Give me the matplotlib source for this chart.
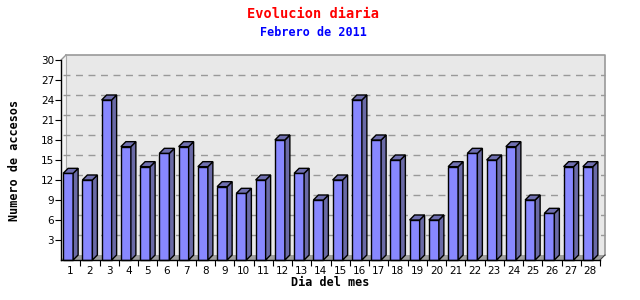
import matplotlib
matplotlib.use("Agg")
import matplotlib.pyplot as plt
from matplotlib.patches import Polygon, Rectangle

days = list(range(1, 29))
accesos = [13, 12, 24, 17, 14, 16, 17, 14, 11, 10, 12, 18, 13, 9, 12, 24,
           18, 15, 6, 6, 14, 16, 15, 17, 9, 7, 14, 14]
yticks = [3, 6, 9, 12, 15, 18, 21, 24, 27, 30]

title = "Evolucion diaria"
subtitle = "Febrero de 2011"
xlabel = "Dia del mes"
ylabel = "Numero de accesos"

W, H, DPI = 640, 300, 100
fig = plt.figure(figsize=(W / DPI, H / DPI), dpi=DPI)
fig.patch.set_facecolor("white")

L, R, T, B = 61, 600, 60, 260
ax = fig.add_axes([L / W, 1 - B / H, (R - L) / W, (B - T) / H])
ax.set_facecolor("none")
xmin, xmax = 0.5, len(days) + 0.5
ymin, ymax = 0, 30
ax.set_xlim(xmin, xmax)
ax.set_ylim(ymin, ymax)

depth_px = 5
dx = depth_px * (xmax - xmin) / (R - L)
dy = depth_px * (ymax - ymin) / (B - T)

mono = "DejaVu Sans Mono"

# back wall
ax.add_patch(Rectangle((xmin + dx, ymin + dy), xmax - xmin, ymax - ymin,
                       facecolor="#e8e8e8", edgecolor="none", zorder=0, clip_on=False))
ax.plot([xmin + dx, xmax + dx, xmax + dx], [ymax + dy, ymax + dy, ymin + dy],
        color="#999999", lw=1.2, zorder=1, clip_on=False)
ax.plot([xmin + dx, xmin + dx], [ymin + dy, ymax + dy], color="#aaaaaa", lw=0.8,
        zorder=1, clip_on=False)
# left wall
ax.add_patch(Polygon([(xmin, ymin), (xmin + dx, ymin + dy), (xmin + dx, ymax + dy), (xmin, ymax)],
                     closed=True, facecolor="#f4f4f4", edgecolor="none", zorder=0, clip_on=False))
ax.plot([xmin, xmin + dx], [ymax, ymax + dy], color="#999999", lw=1, zorder=1, clip_on=False)
# floor
ax.add_patch(Polygon([(xmin, ymin), (xmax, ymin), (xmax + dx, ymin + dy), (xmin + dx, ymin + dy)],
                     closed=True, facecolor="#a0a0a0", edgecolor="none", zorder=1, clip_on=False))
ax.plot([xmax, xmax + dx], [ymin, ymin + dy], color="#444444", lw=0.8, zorder=1, clip_on=False)

# gridlines on back wall
for yv in yticks[:-1]:
    ax.plot([xmin + dx * 0.3, xmax + dx], [yv + dy, yv + dy], color="#999999", lw=1,
            ls=(0, (5, 4)), zorder=1, clip_on=False)

# bars
w = 10 * (xmax - xmin) / (R - L)
front_c = "#8888ff"
side_c = "#6a6aa6"
top_c = "#6f6fb0"
for d, v in zip(days, accesos):
    x0 = d - (w + dx) / 2
    ax.add_patch(Rectangle((x0, 0), w, v, facecolor=front_c, edgecolor="black",
                           lw=1, zorder=3, clip_on=False))
    ax.add_patch(Polygon([(x0 + w, 0), (x0 + w + dx, dy), (x0 + w + dx, v + dy), (x0 + w, v)],
                         closed=True, facecolor=side_c, edgecolor="black", lw=1, zorder=3,
                         clip_on=False))
    ax.add_patch(Polygon([(x0, v), (x0 + dx, v + dy), (x0 + w + dx, v + dy), (x0 + w, v)],
                         closed=True, facecolor=top_c, edgecolor="black", lw=1, zorder=3,
                         clip_on=False))

for s in ["top", "right"]:
    ax.spines[s].set_visible(False)
for s in ["left", "bottom"]:
    ax.spines[s].set_color("black")
    ax.spines[s].set_linewidth(1)
    ax.spines[s].set_zorder(4)

ax.set_yticks(yticks)
ax.set_yticklabels([str(t) for t in yticks])
ax.tick_params(axis="y", direction="out", length=4, width=0.8, pad=1, labelsize=7.5,
               colors="black")
ax.set_xticks(days)
ax.set_xticklabels([str(d) for d in days])
ax.set_xticks([d + 0.5 for d in days], minor=True)
ax.tick_params(axis="x", which="major", length=0, pad=4, labelsize=7.5)
ax.tick_params(axis="x", which="minor", direction="out", length=4, width=0.8)

ax.set_xlabel(xlabel, fontfamily=mono, fontweight="bold", fontsize=8.5, labelpad=0)
ax.set_ylabel(ylabel, fontfamily=mono, fontweight="bold", fontsize=8.5, labelpad=14)

fig.text(313 / W, 1 - 14 / H, title, color="red", fontfamily=mono, fontweight="bold",
         fontsize=9.8, ha="center", va="center")
fig.text(313 / W, 1 - 32 / H, subtitle, color="blue", fontfamily=mono, fontweight="bold",
         fontsize=8.5, ha="center", va="center")

fig.savefig("out.png", dpi=DPI)
